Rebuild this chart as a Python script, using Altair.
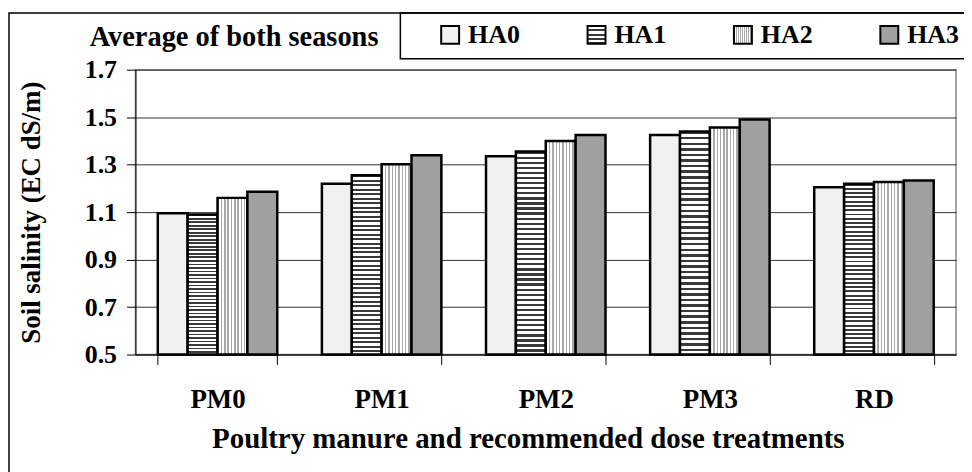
import altair as alt
import pandas as pd

PM = ["PM0", "PM1", "PM2", "PM3", "RD"]
HA = ["HA0", "HA1", "HA2", "HA3"]
HA0 = [1.095, 1.220, 1.335, 1.425, 1.205]
HA1 = [1.090, 1.255, 1.355, 1.440, 1.220]
HA2 = [1.160, 1.302, 1.400, 1.457, 1.227]
HA3 = [1.186, 1.340, 1.425, 1.490, 1.233]
Y_TICKS = [0.5, 0.7, 0.9, 1.1, 1.3, 1.5, 1.7]
Y_BASE = 0.5

rows = []
for s, vals in zip(HA, [HA0, HA1, HA2, HA3]):
    for p, v in zip(PM, vals):
        rows.append({"PM": p, "HA": s, "v": v})
df = pd.DataFrame(rows)
one = pd.DataFrame({"a": [0]})


def stripes(n, dark, light, frac, vertical):
    stops = []
    for i in range(n):
        a = i / n
        b = (i + frac) / n
        c = (i + 1) / n
        stops += [
            "{offset:%.4f,color:'%s'}" % (a, dark),
            "{offset:%.4f,color:'%s'}" % (b, dark),
            "{offset:%.4f,color:'%s'}" % (b, light),
            "{offset:%.4f,color:'%s'}" % (c, light),
        ]
    x2, y2 = (0, 1) if vertical else (1, 0)
    return {"expr": "{gradient:'linear',x1:0,y1:0,x2:%d,y2:%d,stops:[%s]}" % (x2, y2, ",".join(stops))}


fill_range = [
    "#f1f1f1",
    stripes(40, "#3a3a3a", "#ffffff", 0.45, True),
    stripes(9, "#a8a8a8", "#ffffff", 0.42, False),
    "#a0a0a0",
]

FONT = "Liberation Serif"

frame = alt.Chart(one).mark_rect(fillOpacity=0, stroke="black", strokeWidth=1.5).encode(
    x=alt.value(-127), x2=alt.value(850), y=alt.value(-57), y2=alt.value(430)
)
legbox = alt.Chart(one).mark_rect(fillOpacity=0, stroke="black", strokeWidth=1.5).encode(
    x=alt.value(266), x2=alt.value(850), y=alt.value(-57), y2=alt.value(-11)
)
legtitle = alt.Chart(one).mark_text(
    text="Average of both seasons", font=FONT, fontWeight="bold", fontSize=28.5,
    baseline="alphabetic", align="center", color="black"
).encode(x=alt.value(99), y=alt.value(-24))

bars = alt.Chart(df).mark_bar(stroke="black", strokeWidth=2.5).encode(
    x=alt.X("PM:N", sort=PM, scale=alt.Scale(paddingInner=0.272, paddingOuter=0.136),
            axis=alt.Axis(title="Poultry manure and recommended dose treatments", labelAngle=0,
                          labelFont=FONT, labelFontSize=27, labelFontWeight="bold", labelColor="black",
                          labelBaseline="alphabetic", labelPadding=43, tickSize=10, tickBand="extent",
                          tickColor="black", tickWidth=1, domainColor="black", grid=False,
                          titleFont=FONT, titleFontSize=29, titleFontWeight="bold", titleColor="black",
                          titleX=394, titleY=93, titleBaseline="alphabetic")),
    xOffset=alt.XOffset("HA:N", sort=HA, scale=alt.Scale(paddingInner=0, paddingOuter=0)),
    y=alt.Y("v:Q", scale=alt.Scale(domain=[0.5, 1.7], zero=False, nice=False),
            axis=alt.Axis(values=Y_TICKS, format=".1f", labelFont=FONT, labelFontSize=26,
                          labelFontWeight="bold", labelColor="black", labelPadding=10, tickSize=9,
                          tickColor="black", domainColor="black", gridColor="#333333", gridWidth=1,
                          title="Soil salinity (EC dS/m)", titleFont=FONT, titleFontSize=27,
                          titleFontWeight="bold", titleColor="black", titleX=-96, titleY=143,
                          titleBaseline="alphabetic", titleAngle=270, titleAlign="center")),
    y2=alt.datum(Y_BASE),
    fill=alt.Fill("HA:N", scale=alt.Scale(domain=HA, range=fill_range),
                  legend=alt.Legend(title=None, orient="none", legendX=303, legendY=-48,
                                    direction="horizontal", symbolType="square", symbolSize=324,
                                    symbolStrokeColor="black", symbolStrokeWidth=2,
                                    labelFont=FONT, labelFontWeight="bold", labelFontSize=26,
                                    labelColor="black", labelOffset=5, columnPadding=64, padding=0)),
)

chart = alt.layer(frame, legbox, legtitle, bars).properties(
    width=824, height=286,
    autosize=alt.AutoSizeParams(type="none"),
    padding={"left": 128, "top": 61, "right": 8, "bottom": 117},
    background="white",
).configure_view(stroke="#888888", strokeWidth=1.5)

chart.save("out.html", embed_options={"renderer": "svg", "actions": False})
